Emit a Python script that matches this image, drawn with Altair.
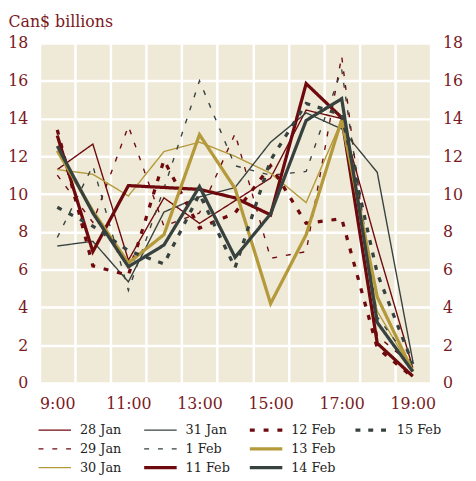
import altair as alt
import pandas as pd

hours = list(range(9, 20))
series_names = ["28 Jan", "29 Jan", "30 Jan", "31 Jan", "1 Feb",
                "11 Feb", "12 Feb", "13 Feb", "14 Feb", "15 Feb"]

v_28jan = [11.3, 12.65, 6.5, 9.8, 8.45, 9.65, 10.85, 14.45, 14.0, 7.2, 0.8]
v_29jan = [11.0, 8.5, 13.6, 8.3, 9.0, 13.2, 6.6, 6.95, 17.3, 2.5, 0.9]
v_30jan = [11.3, 11.05, 9.9, 12.25, 12.75, 12.0, 11.1, 9.55, 13.9, 3.8, 0.6]
v_31jan = [7.25, 7.5, 5.35, 9.05, 9.85, 10.35, 12.75, 14.3, 13.45, 11.15, 1.15]
v_1feb = [7.7, 11.5, 4.9, 10.3, 16.0, 11.5, 11.0, 11.2, 16.6, 3.5, 1.0]
v_11feb = [13.1, 6.95, 10.45, 10.35, 10.25, 9.8, 8.9, 15.85, 14.05, 2.1, 0.35]
v_12feb = [13.4, 6.2, 5.7, 11.8, 8.2, 9.0, 11.5, 8.45, 8.7, 1.85, 0.3]
v_13feb = [12.3, 9.1, 6.35, 7.85, 13.15, 10.3, 4.2, 7.85, 13.95, 4.55, 0.6]
v_14feb = [12.55, 9.0, 6.15, 7.3, 10.4, 6.65, 8.95, 13.9, 15.05, 3.2, 0.6]
v_15feb = [9.3, 8.3, 7.0, 6.3, 10.0, 6.1, 11.8, 14.8, 14.2, 5.8, 1.0]

series_values = [v_28jan, v_29jan, v_30jan, v_31jan, v_1feb,
                 v_11feb, v_12feb, v_13feb, v_14feb, v_15feb]
thick_series = ["11 Feb", "12 Feb", "13 Feb", "14 Feb", "15 Feb"]

y_ticks = [0, 2, 4, 6, 8, 10, 12, 14, 16, 18]
x_label_ticks = [9, 11, 13, 15, 17, 19]
x_grid_ticks = [8.5 + i for i in range(12)]

# ---- styling ----
DARK_RED = "#6e0a0e"
GOLD = "#b59a3b"
GRAY = "#37423f"
TEXT_RED = "#7a1a1e"
BG = "#efe9d7"
FONT = "DejaVu Serif"
THIN = 1.4
THICK = 3.3

colors = [DARK_RED, DARK_RED, GOLD, GRAY, GRAY, DARK_RED, DARK_RED, GOLD, GRAY, GRAY]
dashes = [[1, 0], [5, 9], [1, 0], [1, 0], [5, 9], [1, 0], [5, 9], [1, 0], [1, 0], [5, 8]]

rows = []
for name, vals in zip(series_names, series_values):
    for h, v in zip(hours, vals):
        rows.append({"series": name, "hour": h, "value": v})
df = pd.DataFrame(rows)
df_thin = df[~df["series"].isin(thick_series)]
df_thick = df[df["series"].isin(thick_series)]

leg = pd.DataFrame({
    "series": series_names,
    "col": [i // 3 for i in range(len(series_names))],
    "row": [i % 3 for i in range(len(series_names))],
})
leg_thin = leg[~leg["series"].isin(thick_series)]
leg_thick = leg[leg["series"].isin(thick_series)]

color_scale = alt.Scale(domain=series_names, range=colors)
dash_scale = alt.Scale(domain=series_names, range=dashes)

x_scale = alt.Scale(domain=[8.5, 19.5], nice=False, zero=False)
y_scale = alt.Scale(domain=[0, 18], nice=False)

style_enc = dict(
    color=alt.Color("series:N", scale=color_scale, legend=None),
    strokeDash=alt.StrokeDash("series:N", scale=dash_scale, legend=None),
)

thin = alt.Chart(df_thin).mark_line(strokeJoin="miter", strokeWidth=THIN).encode(
    x=alt.X("hour:Q", scale=x_scale,
            axis=alt.Axis(values=x_label_ticks, grid=False, labelExpr="datum.value + ':00'",
                          title=None, labelPadding=13)),
    y=alt.Y("value:Q", scale=y_scale,
            axis=alt.Axis(values=y_ticks, grid=True, gridColor="white", gridWidth=2.5,
                          gridOpacity=1, title="Can$ billions", titleAngle=0,
                          titleAlign="left", titleBaseline="alphabetic",
                          titleX=-32, titleY=-17, labelPadding=12)),
    **style_enc,
)

thick = alt.Chart(df_thick).mark_line(strokeJoin="miter", strokeWidth=THICK).encode(
    x=alt.X("hour:Q", scale=x_scale, axis=None),
    y=alt.Y("value:Q", scale=y_scale, axis=None),
    **style_enc,
)

right = alt.Chart(df_thin).mark_line(strokeOpacity=0).encode(
    x=alt.X("hour:Q", scale=x_scale,
            axis=alt.Axis(values=x_grid_ticks, grid=True, gridColor="white", gridWidth=2.5,
                          gridOpacity=1, labels=False, title=None)),
    y=alt.Y("value:Q", scale=y_scale,
            axis=alt.Axis(values=y_ticks, orient="right", grid=False, title=None,
                          labelPadding=12)),
    detail="series:N",
)

leg_x = alt.Scale(domain=[0, 4], range=[-1, 428])
leg_y = alt.Scale(domain=[0, 2], range=[393, 431])

leg_rules_thin = alt.Chart(leg_thin).mark_rule(x2Offset=33, strokeWidth=THIN).encode(
    x=alt.X("col:Q", scale=leg_x, axis=None),
    x2="col:Q",
    y=alt.Y("row:Q", scale=leg_y, axis=None),
    **style_enc,
)
leg_rules_thick = alt.Chart(leg_thick).mark_rule(x2Offset=33, strokeWidth=THICK).encode(
    x=alt.X("col:Q", scale=leg_x, axis=None),
    x2="col:Q",
    y=alt.Y("row:Q", scale=leg_y, axis=None),
    **style_enc,
)

leg_text = alt.Chart(leg).mark_text(align="left", baseline="middle", dx=42,
                                     font=FONT, fontSize=13, color="#1e1e1e").encode(
    x=alt.X("col:Q", scale=leg_x, axis=None),
    y=alt.Y("row:Q", scale=leg_y, axis=None),
    text="series:N",
)

chart = alt.layer(thin, thick, right, leg_rules_thin, leg_rules_thick, leg_text).resolve_scale(
    x="independent", y="independent"
).properties(
    width=397, height=345,
    padding={"left": 32, "top": 32, "right": 38, "bottom": 94},
    autosize=alt.AutoSizeParams(type="none"),
).configure_view(
    fill=BG, stroke=None
).configure_axis(
    domain=False, ticks=False,
    labelFont=FONT, labelFontSize=16, labelColor=TEXT_RED,
    titleFont=FONT, titleFontSize=16, titleColor=TEXT_RED, titleFontWeight="normal",
)

chart.save("out.html", embed_options={"renderer": "svg", "actions": False})
